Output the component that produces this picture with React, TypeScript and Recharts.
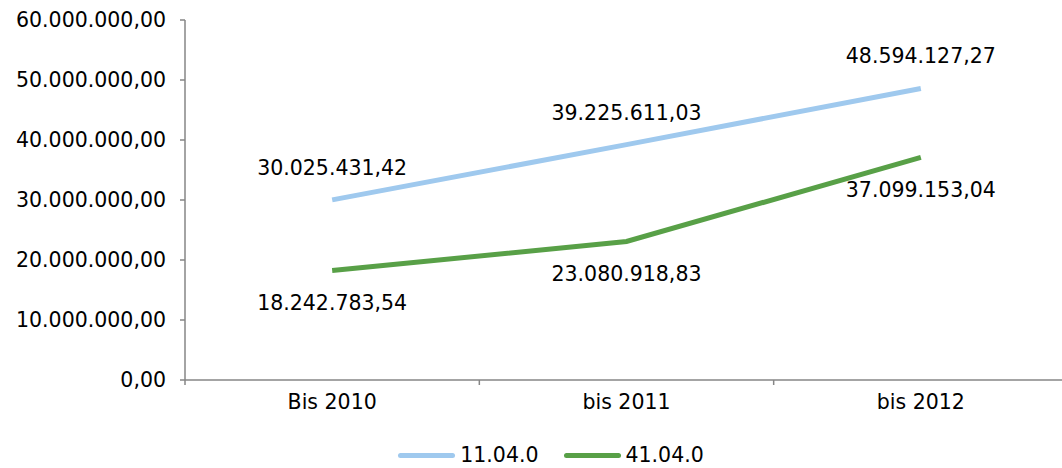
import { LineChart, Line, XAxis, YAxis, Legend, LabelList } from "recharts";

const categories = ["Bis 2010", "bis 2011", "bis 2012"];
const series1 = [30025431.42, 39225611.03, 48594127.27];
const series2 = [18242783.54, 23080918.83, 37099153.04];
const seriesNames = ["11.04.0", "41.04.0"];
const seriesColors = ["#9FC9EE", "#58A047"];
const yTicks = [0, 10000000, 20000000, 30000000, 40000000, 50000000, 60000000];

// category index -> band centre on a 0..n numeric axis, used only for the boundary tick marks
const data = categories.map((name, i) => ({
  name,
  pos: i + 0.5,
  s1: series1[i],
  s2: series2[i],
}));
const bandEdges = [0, ...categories.map((_, i) => i + 1)];

// 1234567.5 -> "1.234.567,50"
const fmt = (v: number) => {
  const [int, dec] = Math.abs(v).toFixed(2).split(".");
  const grouped = int.replace(/\B(?=(\d{3})+(?!\d))/g, ".");
  return (v < 0 ? "-" : "") + grouped + "," + dec;
};

const FONT = "'DejaVu Sans', Verdana, sans-serif";
const AXIS = "#868686";
const tickStyle = { fontSize: 20.5, fill: "#000", fontFamily: FONT };

const renderLegend = () => (
  <div
    style={{
      display: "flex",
      justifyContent: "center",
      alignItems: "center",
      height: 26,
      marginLeft: 34,
      fontFamily: FONT,
      fontSize: 20.5,
      lineHeight: "26px",
      color: "#000",
    }}
  >
    {seriesNames.map((n, i) => (
      <div key={n} style={{ display: "flex", alignItems: "center", marginRight: i === 0 ? 25 : 0 }}>
        <span
          style={{
            display: "inline-block",
            width: 57,
            height: 5,
            borderRadius: 3,
            background: seriesColors[i],
            marginRight: 5,
          }}
        />
        <span>{n}</span>
      </div>
    ))}
  </div>
);

// the original plot area runs a few px past the right edge of the picture
export default function App() {
  return (
    <div style={{ position: "absolute", left: 0, top: 0, width: 1062, height: 468, overflow: "hidden", background: "#fff" }}>
      <LineChart width={1068} height={468} data={data} margin={{ top: 20, right: 0, left: 0, bottom: 0 }}>
        {/* axis line + tick marks at the category boundaries */}
        <XAxis
          xAxisId={0}
          dataKey="pos"
          type="number"
          domain={[0, categories.length]}
          allowDataOverflow
          ticks={bandEdges}
          interval={0}
          tickFormatter={() => ""}
          tickSize={5}
          height={6}
          axisLine={{ stroke: AXIS, strokeWidth: 1.5 }}
          tickLine={{ stroke: AXIS, strokeWidth: 1.5 }}
        />
        <XAxis
          xAxisId={1}
          dataKey="name"
          scale="band"
          axisLine={false}
          tickLine={false}
          tickSize={0}
          tickMargin={8}
          height={56}
          tick={tickStyle}
        />
        <YAxis
          domain={[0, 60000000]}
          ticks={yTicks}
          tickFormatter={fmt}
          width={185}
          tickSize={5}
          tickMargin={14}
          interval={0}
          axisLine={{ stroke: AXIS, strokeWidth: 1.5 }}
          tickLine={{ stroke: AXIS, strokeWidth: 1.5 }}
          tick={tickStyle}
        />
        <Legend verticalAlign="bottom" height={26} content={renderLegend} />
        <Line
          xAxisId={1}
          dataKey="s1"
          name={seriesNames[0]}
          stroke={seriesColors[0]}
          strokeWidth={5}
          dot={false}
          isAnimationActive={false}
        >
          <LabelList dataKey="s1" position="top" offset={25} formatter={(v: any) => fmt(Number(v))} style={tickStyle} />
        </Line>
        <Line
          xAxisId={1}
          dataKey="s2"
          name={seriesNames[1]}
          stroke={seriesColors[1]}
          strokeWidth={5}
          dot={false}
          isAnimationActive={false}
        >
          <LabelList dataKey="s2" position="bottom" offset={25} formatter={(v: any) => fmt(Number(v))} style={tickStyle} />
        </Line>
      </LineChart>
    </div>
  );
}
